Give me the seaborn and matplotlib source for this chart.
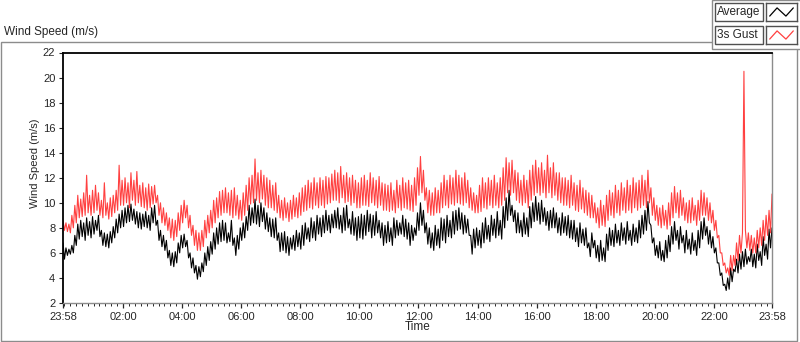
import pandas as pd
import matplotlib
matplotlib.use("Agg")
import matplotlib.pyplot as plt
import matplotlib.dates as mdates
from matplotlib.patches import Rectangle
import seaborn as sns

# Wind speed over one day (3-minute samples)

START = "2015-06-01 23:58"
END = "2015-06-02 23:58"

# one row per hour from 23:58
AVG_SPEED = [
    6.8, 5.5, 6.4, 5.8, 6.3, 5.9, 6.6, 6.0, 7.4, 6.6, 8.3, 7.1, 8.6, 7.3, 8.4, 7.0, 8.8, 7.4, 8.5, 7.2,
    8.9, 7.5, 8.6, 7.8, 9.0, 7.3, 7.8, 6.6, 7.6, 6.5, 7.5, 6.4, 7.7, 6.8, 8.1, 7.2, 8.7, 7.6, 9.1, 8.0,
    9.4, 8.1, 9.6, 8.4, 9.8, 8.5, 9.9, 8.6, 9.5, 8.3, 9.3, 8.0, 9.2, 7.9, 9.1, 8.1, 9.3, 8.0, 9.0, 7.8,
    9.6, 8.4, 9.8, 8.2, 8.6, 7.0, 7.8, 6.5, 7.4, 6.2, 7.0, 5.6, 6.2, 5.0, 6.0, 4.9, 6.1, 5.2, 6.8, 6.0,
    7.4, 6.4, 7.5, 6.5, 7.0, 5.6, 6.0, 4.8, 5.6, 4.4, 5.0, 3.9, 4.9, 4.1, 5.2, 4.5, 6.0, 5.0, 6.5, 5.4,
    6.9, 5.9, 7.6, 6.3, 8.0, 6.7, 8.4, 6.9, 8.6, 7.0, 8.4, 6.8, 7.6, 6.9, 8.6, 6.6, 7.2, 5.8, 7.4, 6.3,
    8.0, 7.0, 8.4, 7.2, 8.9, 7.8, 9.8, 8.2, 9.6, 8.4, 10.3, 8.3, 9.8, 8.1, 10.0, 8.5, 9.6, 7.9, 9.2, 7.7,
    8.8, 7.3, 8.7, 7.2, 8.8, 7.0, 7.6, 6.1, 7.6, 6.2, 7.7, 6.0, 7.3, 5.8, 7.2, 6.3, 7.4, 6.2, 7.8, 6.5,
    7.6, 6.3, 8.2, 6.6, 8.4, 7.1, 8.0, 6.9, 8.8, 7.2, 8.5, 7.0, 9.0, 7.5, 8.8, 7.3, 9.0, 7.6, 9.4, 7.8,
    9.0, 7.6, 9.1, 8.0, 9.4, 8.0, 9.6, 7.9, 9.0, 7.6, 9.6, 7.8, 9.8, 8.0, 8.7, 7.5, 9.3, 7.4, 8.8, 7.0,
    8.9, 7.2, 9.1, 7.1, 9.0, 7.4, 9.4, 7.7, 9.1, 7.2, 9.0, 7.4, 9.3, 7.6, 8.6, 7.2, 8.4, 6.6, 8.2, 6.8,
    8.5, 6.9, 8.0, 6.6, 8.8, 7.2, 8.6, 7.4, 8.4, 7.5, 9.0, 7.3, 8.7, 7.1, 8.4, 6.6, 8.2, 7.0, 8.0, 7.4,
    9.2, 7.8, 10.0, 8.2, 9.4, 7.6, 8.4, 6.7, 8.0, 6.4, 7.6, 6.2, 8.2, 6.6, 7.9, 6.4, 8.8, 7.0, 8.7, 6.8,
    9.0, 7.3, 8.6, 7.2, 9.3, 7.5, 9.4, 7.8, 9.6, 7.9, 9.2, 7.5, 9.0, 7.6, 8.7, 7.4, 7.4, 5.9, 7.9, 6.4,
    8.0, 6.6, 7.8, 6.4, 8.4, 6.8, 8.8, 7.1, 8.2, 6.9, 9.0, 7.4, 8.7, 7.2, 9.3, 7.4, 8.6, 7.1, 9.7, 8.0,
    10.4, 8.6, 11.0, 9.0, 9.8, 8.5, 9.4, 7.6, 9.2, 7.6, 8.6, 7.3, 9.2, 7.5, 8.8, 7.3, 9.7, 8.0, 10.0, 8.5,
    10.5, 8.6, 10.0, 8.3, 10.2, 8.5, 9.6, 8.2, 9.3, 7.8, 9.4, 8.0, 9.6, 8.0, 9.2, 7.6, 8.8, 7.4, 9.2, 7.6,
    8.9, 7.4, 9.0, 7.2, 8.6, 7.1, 8.6, 6.9, 8.0, 6.5, 8.4, 6.8, 7.9, 6.6, 8.0, 6.4, 6.8, 5.7, 7.6, 6.4,
    7.0, 5.6, 6.6, 5.3, 7.0, 5.4, 6.4, 5.3, 7.5, 6.2, 8.0, 6.6, 7.8, 6.5, 8.3, 6.8, 7.8, 6.6, 8.4, 7.0,
    8.0, 6.7, 8.5, 7.0, 7.8, 6.6, 8.3, 6.9, 8.0, 6.8, 8.6, 7.2, 9.0, 7.5, 9.4, 7.8, 10.1, 8.4, 8.2, 6.8,
    7.2, 5.8, 6.6, 5.6, 6.9, 5.4, 6.2, 5.3, 7.0, 5.6, 7.4, 6.1, 8.1, 6.7, 8.5, 7.0, 7.8, 6.3, 8.1, 6.8,
    7.4, 6.0, 7.8, 6.3, 7.1, 5.9, 7.6, 6.2, 7.0, 5.8, 7.8, 6.4, 8.5, 7.1, 8.8, 7.4, 8.1, 6.7, 7.8, 6.4,
    7.3, 6.0, 6.4, 5.2, 5.2, 4.2, 4.4, 3.4, 3.5, 3.0, 4.0, 3.1, 4.8, 3.7, 4.7, 4.5, 5.5, 4.4, 5.9, 4.7,
    6.1, 4.9, 6.3, 5.1, 5.7, 5.3, 6.3, 4.9, 5.9, 4.8, 6.7, 5.4, 6.1, 5.0, 7.3, 5.8, 6.7, 5.5, 7.9, 6.4, 8.0,
]

GUST_SPEED = [
    8.6, 7.8, 8.4, 7.7, 8.3, 7.6, 9.0, 8.0, 9.8, 8.4, 10.6, 8.8, 10.3, 8.9, 10.8, 9.0, 12.2, 9.2, 10.6, 9.0,
    11.0, 9.2, 11.4, 9.4, 10.8, 9.0, 10.2, 8.8, 11.6, 9.0, 10.0, 8.7, 10.4, 8.9, 10.6, 9.2, 11.0, 9.4, 13.0, 9.8,
    11.8, 9.8, 12.0, 10.0, 11.6, 9.6, 12.4, 10.2, 11.8, 9.8, 12.5, 10.0, 11.4, 9.7, 11.6, 9.6, 11.2, 9.4, 11.5, 9.6,
    11.3, 9.9, 11.4, 10.0, 10.6, 9.0, 10.0, 8.4, 9.6, 8.2, 9.2, 7.8, 8.8, 7.2, 8.7, 7.0, 8.6, 7.3, 9.2, 7.8,
    9.8, 8.4, 10.2, 8.8, 9.8, 8.0, 9.0, 7.4, 8.2, 6.6, 7.8, 6.2, 7.6, 6.2, 7.8, 6.5, 8.6, 7.2, 9.0, 7.6,
    9.4, 8.0, 10.2, 8.4, 10.4, 8.8, 10.9, 9.0, 11.0, 9.2, 11.2, 9.2, 10.8, 9.0, 11.0, 8.8, 11.2, 9.0, 10.6, 8.7,
    10.2, 8.6, 10.8, 9.0, 11.4, 9.4, 12.0, 9.9, 12.2, 10.0, 13.5, 10.2, 12.4, 10.0, 12.6, 10.3, 12.2, 9.8, 12.0, 9.6,
    11.8, 9.6, 11.4, 9.4, 11.6, 9.2, 10.6, 8.8, 10.2, 8.6, 10.4, 8.8, 10.0, 8.5, 10.2, 8.7, 10.6, 8.9, 10.4, 8.8,
    10.8, 9.0, 11.2, 9.3, 11.4, 9.4, 11.8, 9.6, 11.6, 9.5, 12.0, 9.8, 11.6, 9.6, 12.0, 9.8, 11.8, 9.6, 12.1, 9.9,
    12.0, 10.0, 12.3, 10.2, 12.6, 10.2, 12.4, 10.0, 12.9, 10.4, 12.2, 10.0, 12.4, 10.1, 12.0, 9.8, 12.2, 10.0, 11.8, 9.6,
    11.6, 9.6, 12.0, 9.8, 12.2, 9.8, 11.8, 9.7, 12.4, 10.0, 12.0, 9.8, 11.8, 9.6, 12.1, 9.8, 11.6, 9.4, 11.5, 9.4,
    11.4, 9.3, 11.6, 9.4, 11.0, 9.2, 11.8, 9.6, 11.4, 9.4, 12.0, 9.6, 11.6, 9.5, 11.8, 9.4, 11.4, 9.3, 12.0, 9.8,
    12.8, 10.6, 13.7, 10.8, 12.6, 10.2, 11.2, 9.2, 11.0, 9.0, 10.8, 9.0, 11.2, 9.2, 11.0, 9.2, 11.6, 9.6, 12.2, 9.8,
    11.8, 9.6, 12.2, 9.9, 12.0, 9.8, 12.6, 10.0, 12.2, 9.9, 12.0, 9.8, 12.4, 10.0, 11.8, 9.6, 11.2, 9.4, 10.8, 9.2,
    10.6, 9.2, 11.4, 9.3, 12.0, 9.6, 11.6, 9.5, 12.0, 9.8, 11.8, 9.6, 12.2, 9.8, 11.6, 9.6, 12.0, 9.8, 12.8, 10.2,
    13.6, 10.8, 13.2, 10.6, 13.4, 10.8, 12.6, 10.2, 12.4, 10.0, 11.8, 9.8, 12.2, 10.0, 11.8, 9.6, 12.6, 10.2, 13.0, 10.6,
    13.4, 10.8, 12.8, 10.6, 13.2, 10.8, 12.6, 10.4, 13.8, 10.8, 12.8, 10.4, 13.2, 10.6, 12.4, 10.2, 12.4, 10.0, 12.0, 9.8,
    12.0, 9.8, 11.8, 9.6, 12.2, 9.8, 11.6, 9.4, 11.4, 9.3, 11.8, 9.5, 11.2, 9.2, 11.0, 9.0, 10.8, 8.8, 10.6, 8.8,
    10.0, 8.4, 9.6, 8.0, 10.2, 8.2, 9.8, 8.1, 10.6, 8.6, 11.0, 9.0, 10.8, 8.8, 11.4, 9.2, 11.0, 9.0, 11.6, 9.4,
    11.2, 9.2, 11.8, 9.4, 11.4, 9.2, 12.0, 9.6, 11.6, 9.4, 11.8, 9.6, 12.2, 9.8, 11.8, 9.6, 12.6, 10.0, 11.2, 9.0,
    10.4, 8.6, 9.8, 8.2, 9.6, 8.0, 9.8, 8.2, 9.4, 7.9, 10.0, 8.2, 10.8, 8.8, 11.3, 9.2, 10.8, 8.8, 11.0, 9.0,
    10.4, 8.6, 10.0, 8.4, 10.2, 8.4, 10.4, 8.6, 9.8, 8.2, 10.2, 8.6, 11.0, 9.0, 10.8, 9.0, 10.4, 8.6, 10.0, 8.4,
    9.4, 7.8, 8.6, 7.2, 7.4, 6.0, 6.0, 5.0, 5.2, 4.4, 4.8, 4.2, 5.8, 4.6, 5.8, 5.0, 6.8, 5.4, 7.4, 6.0,
    7.6, 20.5, 7.8, 6.4, 7.6, 6.2, 7.4, 6.0, 7.2, 6.0, 7.8, 6.4, 8.0, 6.6, 8.6, 7.0, 9.0, 7.4, 9.4, 7.6, 10.7,
]

X_TICK_LABELS = ["23:58", "02:00", "04:00", "06:00", "08:00", "10:00", "12:00",
                 "14:00", "16:00", "18:00", "20:00", "22:00", "23:58"]
Y_TICKS = list(range(2, 23, 2))
SERIES = [("Average", "black"), ("3s Gust", "#ff4040")]

# legend icon shape (/\/)
SWATCH_X = [0, 1, 2.2, 3.2]
SWATCH_Y = [0, 1, 0, 1]

times = pd.date_range(START, END, periods=len(AVG_SPEED))
df = pd.DataFrame({"time": times, "Average": AVG_SPEED, "3s Gust": GUST_SPEED})

sns.set_style("ticks")
plt.rcParams["font.family"] = ["Liberation Sans", "DejaVu Sans"]

W, H = 800, 342
fx = lambda px: px / W
fy = lambda py: 1 - py / H

fig = plt.figure(figsize=(8, 3.42), dpi=100)
ax = fig.add_axes([fx(63), fy(303), fx(772) - fx(63), fy(52.5) - fy(303)])

for name, color in SERIES:
    sns.lineplot(data=df, x="time", y=name, color=color, lw=0.8, ax=ax)

# axes, ticks
tick_pos = ([times[0]]
            + list(pd.date_range(times[0].normalize() + pd.Timedelta(hours=26), periods=11, freq="2h"))
            + [times[-1]])
ax.set_xlim(times[0], times[-1])
ax.set_ylim(2, 22)
ax.set_xticks(tick_pos)
ax.set_xticklabels(X_TICK_LABELS)
ax.xaxis.set_minor_locator(mdates.MinuteLocator(byminute=[0, 12, 24, 36, 48]))
ax.set_yticks(Y_TICKS)

ax.tick_params(axis="y", direction="out", length=3, width=0.8, pad=2.5, labelsize=8)
ax.tick_params(axis="x", which="major", direction="out", length=3.6, width=0.9, pad=3, labelsize=8)
ax.tick_params(axis="x", which="minor", direction="out", length=2, width=0.7)

for s in ["left", "top"]:
    ax.spines[s].set_visible(True)
    ax.spines[s].set_color("black")
    ax.spines[s].set_linewidth(1.3)
for s in ["right", "bottom"]:
    ax.spines[s].set_visible(True)
    ax.spines[s].set_color("#8c8c8c")
    ax.spines[s].set_linewidth(1.0)

ax.set_xlabel("Time", fontsize=8.5)
ax.xaxis.set_label_coords(0.5, -0.072)
ax.set_ylabel("Wind Speed (m/s)", fontsize=8)
ax.yaxis.set_label_coords(-0.0324, 0.559)

# outer frame + title
fig.add_artist(Rectangle((fx(0.5), fy(340.5)), 796.5 / W, (340.5 - 42) / H,
                         transform=fig.transFigure, fill=False, ec="#8c8c8c", lw=1, zorder=1))
fig.text(fx(4), fy(35), "Wind Speed (m/s)", fontsize=8.5, va="baseline")

# legend panel
fig.add_artist(Rectangle((fx(712), fy(49)), 90 / W, 49 / H, transform=fig.transFigure,
                         fc="white", ec="#8c8c8c", lw=1, zorder=2))
for i, (name, color) in enumerate(SERIES):
    top = 3 + 23 * i
    fig.add_artist(Rectangle((fx(715), fy(top + 18)), 48 / W, 18 / H, transform=fig.transFigure,
                             fc="white", ec="#505050", lw=1, zorder=3))
    fig.text(fx(717), fy(top + 9.5), name, fontsize=8.5, va="center", zorder=4)
    sw = fig.add_axes([fx(766), fy(top + 18), 31 / W, 18 / H])
    sw.set_zorder(5)
    sw.plot(SWATCH_X, SWATCH_Y, color=color, lw=0.9)
    sw.set_xlim(-0.5, 3.7)
    sw.set_ylim(-0.6, 1.6)
    sw.set_xticks([])
    sw.set_yticks([])
    for s in sw.spines.values():
        s.set_color("#505050")
        s.set_linewidth(1)

fig.savefig("out.png", dpi=100)
plt.close()
